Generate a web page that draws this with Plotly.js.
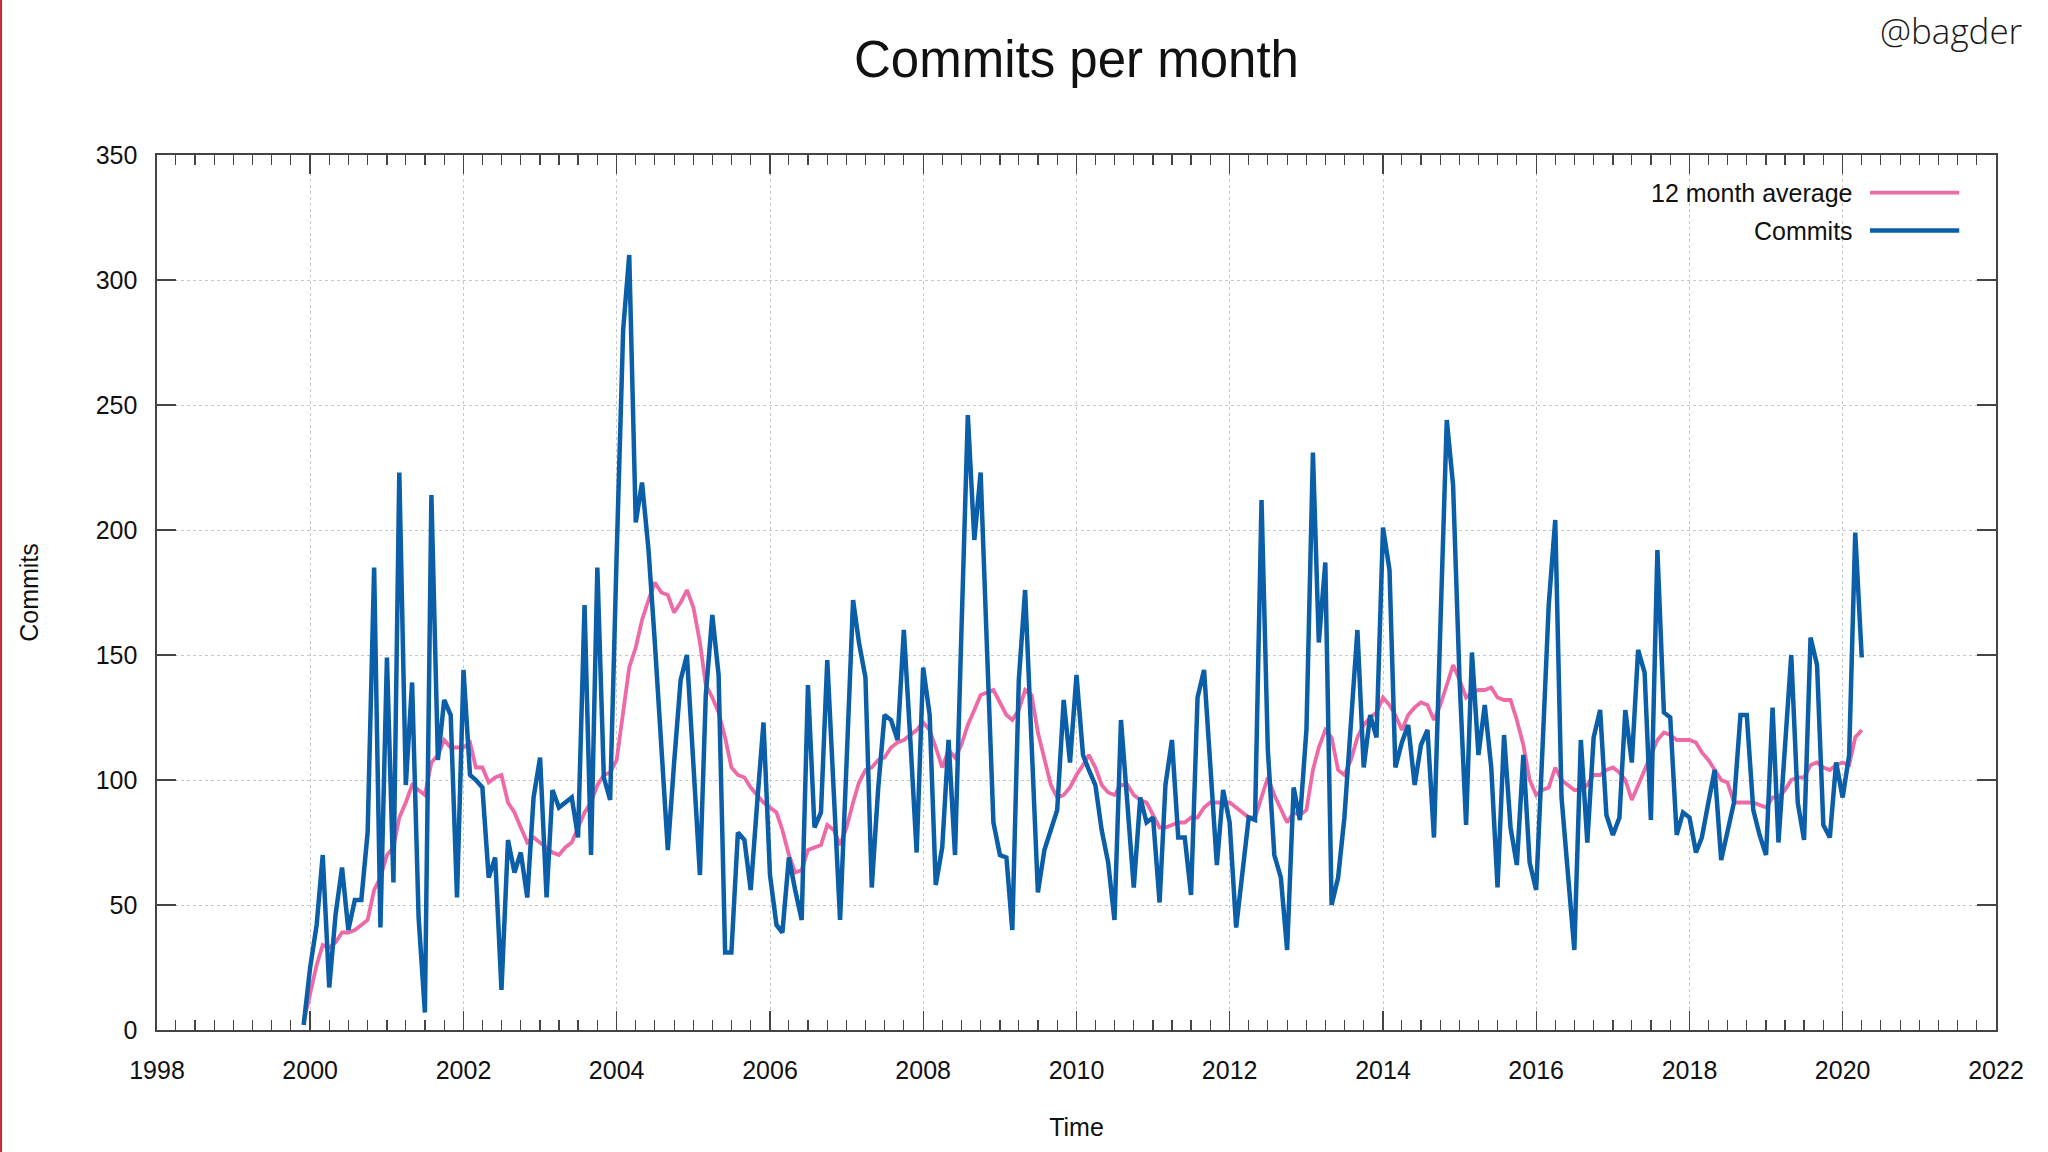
<!DOCTYPE html>
<html>
<head>
<meta charset="utf-8">
<script src="https://cdn.plot.ly/plotly-3.0.1.min.js"></script>
<style>
  html, body { margin: 0; padding: 0; background: #ffffff; }
  #chart { width: 2048px; height: 1152px; }
</style>
</head>
<body>
<div id="chart"></div>
<script>
// First month of the series
const startYear = 1999;
const startMonth = 12;

// Commits per month (Dec 1999 .. Apr 2020)
const commits = [
  2,25,42,70,17,46,65,40,52,52,79,185,
  41,149,59,223,98,139,45,7,214,108,132,126,
  53,144,102,100,97,61,69,16,76,63,71,53,
  93,109,53,96,89,91,93,77,170,70,185,101,
  92,190,280,310,203,219,192,155,112,72,107,140,
  150,107,62,134,166,142,31,31,79,76,56,91,
  123,62,42,39,69,56,44,138,81,87,148,95,
  44,107,172,155,141,57,97,126,124,116,160,116,
  71,145,126,58,73,116,70,158,246,196,223,151,
  83,70,69,40,140,176,110,55,72,80,88,132,
  107,142,110,104,98,80,67,44,124,90,57,93,
  83,85,51,98,116,77,77,54,133,144,105,66,
  96,83,41,64,85,84,212,112,70,61,32,97,
  84,120,231,155,187,50,61,85,122,160,105,126,
  117,201,184,105,115,122,98,114,120,77,160,244,
  218,140,82,151,110,130,105,57,118,81,66,110,
  67,56,114,170,204,93,62,32,116,75,117,128,
  86,78,85,128,107,152,143,84,192,127,125,78,
  87,85,71,77,91,104,68,79,91,126,126,88,
  78,70,129,75,112,150,91,76,157,146,82,77,
  107,93,110,199,149
];

// 12 month average
const average12 = [
  3,14,26,34,33,35,39,39,40,42,44,56,
  61,70,73,85,91,98,96,94,107,110,116,113,
  113,113,115,105,105,99,101,102,91,87,81,75,
  77,75,73,71,70,73,75,81,87,91,98,102,
  103,108,126,145,153,164,172,179,175,174,167,171,
  176,169,155,138,133,127,117,105,102,101,97,94,
  91,89,87,80,70,63,64,72,73,74,82,80,
  74,81,91,99,104,105,108,109,113,115,116,118,
  120,123,120,113,105,112,109,114,122,128,134,135,
  136,131,126,124,128,136,134,119,108,98,93,94,
  97,102,106,110,105,98,95,94,98,98,94,92,
  91,86,81,81,82,83,83,85,85,89,91,91,
  91,91,89,87,85,85,93,101,94,88,83,87,
  86,88,104,113,120,117,104,102,108,117,122,125,
  127,133,130,126,120,126,129,131,130,124,130,138,
  146,140,133,135,136,136,137,133,132,132,124,114,
  100,94,96,97,105,100,98,96,96,98,102,102,
  104,105,103,100,92,98,104,110,116,119,118,116,
  116,116,115,111,108,104,100,99,91,91,91,91,
  90,89,93,93,96,100,101,101,106,107,105,104,
  106,107,106,117,120
];

const yTicks = [0, 50, 100, 150, 200, 250, 300, 350];
const seriesNames = ['12 month average', 'Commits'];
const seriesColors = ['#ee6aa7', '#0b5ea8'];

// Month labels as dates
const months = [];
for (let i = 0; i < commits.length; i++) {
  const total = startYear * 12 + (startMonth - 1) + i;
  const y = Math.floor(total / 12);
  const m = (total % 12) + 1;
  months.push(y + '-' + String(m).padStart(2, '0') + '-01');
}

const FONT = '"Liberation Sans", Arial, Helvetica, sans-serif';

const traces = [
  {
    x: months, y: average12, type: 'scatter', mode: 'lines',
    name: seriesNames[0],
    line: { color: seriesColors[0], width: 3.8 },
    hoverinfo: 'x+y'
  },
  {
    x: months, y: commits, type: 'scatter', mode: 'lines',
    name: seriesNames[1],
    line: { color: seriesColors[1], width: 4.5 },
    hoverinfo: 'x+y'
  }
];

const axisLine = '#444444';
const gridCol = '#c8c8c8';

const layout = {
  width: 2048, height: 1152,
  paper_bgcolor: '#ffffff', plot_bgcolor: '#ffffff',
  margin: { l: 157, r: 52, t: 155, b: 122 },
  showlegend: false,
  font: { family: FONT, size: 25, color: '#111111' },
  title: {
    text: 'Commits per month',
    font: { family: FONT, size: 51, color: '#111111' },
    x: 0.5, xref: 'paper', xanchor: 'center',
    y: 0.949, yref: 'container', yanchor: 'middle'
  },
  xaxis: {
    type: 'date',
    range: ['1998-01-01', '2022-01-01'],
    tick0: '1998-01-01', dtick: 'M24', tickformat: '%Y',
    ticks: 'inside', ticklen: 19, tickwidth: 1.3, tickcolor: axisLine,
    showline: true, linecolor: axisLine, linewidth: 1.6, mirror: 'ticks',
    showgrid: true, gridcolor: gridCol, griddash: 'dot', gridwidth: 1,
    zeroline: false,
    ticklabelstandoff: 17,
    tickfont: { family: FONT, size: 25, color: '#111111' },
    minor: { dtick: 'M3', ticks: 'inside', ticklen: 10, tickwidth: 1.2, tickcolor: axisLine, showgrid: false },
    title: { text: 'Time', font: { family: FONT, size: 25, color: '#111111' }, standoff: 36 },
    automargin: false
  },
  yaxis: {
    range: [0, 350],
    tickvals: yTicks,
    ticks: 'inside', ticklen: 19, tickwidth: 1.3, tickcolor: axisLine,
    showline: true, linecolor: axisLine, linewidth: 1.6, mirror: 'ticks',
    showgrid: true, gridcolor: gridCol, griddash: 'dot', gridwidth: 1,
    zeroline: false,
    ticklabelstandoff: 13,
    tickfont: { family: FONT, size: 25, color: '#111111' },
    title: { text: 'Commits', font: { family: FONT, size: 25, color: '#111111' }, standoff: 50 },
    automargin: false
  },
  annotations: [
    { text: seriesNames[0], xref: 'paper', yref: 'paper', x: 0.9232, y: 0.957,
      xanchor: 'right', yanchor: 'middle', showarrow: false,
      font: { family: FONT, size: 25, color: '#111111' } },
    { text: seriesNames[1], xref: 'paper', yref: 'paper', x: 0.9232, y: 0.9137,
      xanchor: 'right', yanchor: 'middle', showarrow: false,
      font: { family: FONT, size: 25, color: '#111111' } },
    { text: '@bagder', xref: 'paper', yref: 'paper', x: 1.0158, y: 1.1423,
      xanchor: 'right', yanchor: 'middle', showarrow: false,
      font: { family: '"Open Sans", "Noto Sans", sans-serif', size: 35, color: '#1a1a1a', weight: 300 } }
  ],
  shapes: [
    { type: 'line', xref: 'paper', yref: 'paper', x0: 0.9315, x1: 0.980, y0: 0.957, y1: 0.957,
      line: { color: seriesColors[0], width: 3.8 } },
    { type: 'line', xref: 'paper', yref: 'paper', x0: 0.9315, x1: 0.980, y0: 0.9137, y1: 0.9137,
      line: { color: seriesColors[1], width: 4.5 } },
    { type: 'line', xref: 'paper', yref: 'paper', x0: -0.0848, x1: -0.0848, y0: -0.2, y1: 1.2,
      line: { color: '#c62828', width: 2 } }
  ]
};

Plotly.newPlot('chart', traces, layout, { staticPlot: true, displayModeBar: false });
</script>
</body>
</html>
